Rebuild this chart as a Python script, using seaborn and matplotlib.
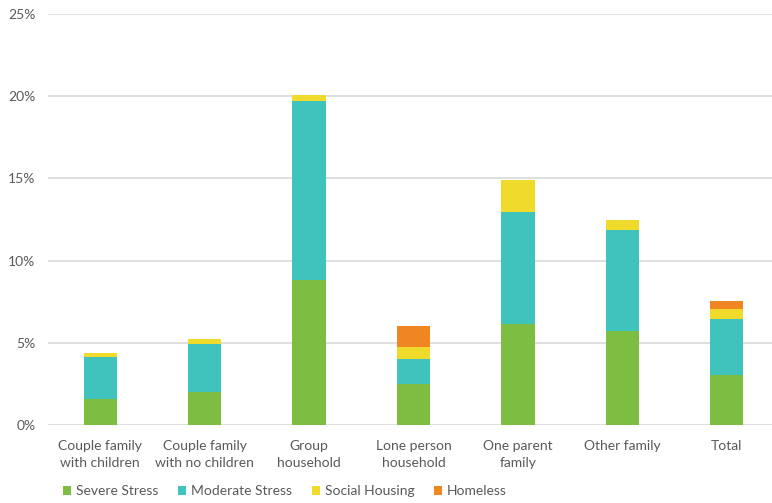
import matplotlib
matplotlib.use("Agg")
import matplotlib.pyplot as plt
from matplotlib.patches import Patch
from matplotlib.ticker import PercentFormatter
import numpy as np
import pandas as pd
import seaborn as sns

# Household types and housing stress shares (%)
categories = [
    "Couple family\nwith children",
    "Couple family\nwith no children",
    "Group\nhousehold",
    "Lone person\nhousehold",
    "One parent\nfamily",
    "Other family",
    "Total",
]
severe_stress = [1.58, 2.00, 8.80, 2.47, 6.16, 5.71, 3.04]
moderate_stress = [2.57, 2.94, 10.90, 1.53, 6.80, 6.14, 3.38]
social_housing = [0.21, 0.31, 0.40, 0.72, 1.95, 0.61, 0.63]
homeless = [0.00, 0.00, 0.00, 1.28, 0.00, 0.00, 0.49]

series_names = ["Severe Stress", "Moderate Stress", "Social Housing", "Homeless"]
series_colors = ["#7DBD42", "#40C2BD", "#F0DA2B", "#EF8622"]
yticks = [0, 5, 10, 15, 20, 25]

df = pd.DataFrame({
    "category": categories,
    "Severe Stress": severe_stress,
    "Moderate Stress": moderate_stress,
    "Social Housing": social_housing,
    "Homeless": homeless,
})

sns.set_theme(style="white")
plt.rcParams["font.family"] = ["Lato", "DejaVu Sans"]
text_color = "#595959"

fig = plt.figure(figsize=(7.72, 5.03), dpi=100)
ax = fig.add_axes([48 / 772, 78 / 503, 731 / 772, 411 / 503])

bottom = np.zeros(len(categories))
for name, color in zip(series_names, series_colors):
    vals = df[name].to_numpy()
    sns.barplot(data=df.assign(val=vals), x="category", y="val", bottom=bottom,
                color=color, width=0.32, ax=ax, saturation=1, zorder=3,
                linewidth=0, edgecolor="none")
    bottom = bottom + vals

ax.set_ylim(0, 25)
ax.set_xlim(-0.5, 6.5)
ax.set_yticks(yticks)
ax.yaxis.set_major_formatter(PercentFormatter(decimals=0))
ax.grid(axis="y", color="#D9D9D9", linewidth=1.2, zorder=0)
ax.set_axisbelow(True)
for s in ax.spines.values():
    s.set_visible(False)
ax.set_xlabel("")
ax.set_ylabel("")
ax.tick_params(axis="y", colors=text_color, labelsize=10, length=0, pad=9)
ax.tick_params(axis="x", colors=text_color, labelsize=10, length=0, pad=11)
for lab in ax.get_xticklabels():
    lab.set_linespacing(1.45)

handles = [Patch(facecolor=c, edgecolor="none") for c in series_colors]
leg = fig.legend(handles, series_names, loc="center left", bbox_to_anchor=(56 / 772, 12 / 503),
                 ncol=4, frameon=False, fontsize=10, handlelength=0.6, handleheight=0.6,
                 handletextpad=0.35, columnspacing=1.4, borderpad=0)
for t in leg.get_texts():
    t.set_color(text_color)

fig.savefig("out.png", dpi=100)
